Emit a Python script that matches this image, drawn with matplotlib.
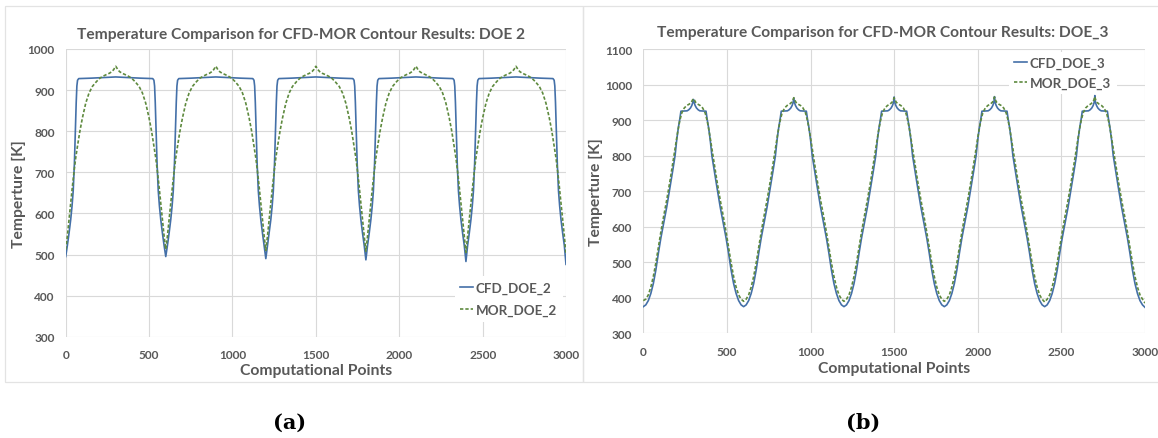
import matplotlib
matplotlib.use("Agg")
import matplotlib.pyplot as plt
from matplotlib.patches import Rectangle

# ---------------------------------------------------------------------------
# Data: temperature [K] along the computational points.
# Each curve repeats every 600 points; a half-cycle profile (distance from a
# trough -> temperature) is given per series, plus the trough and peak value
# of every cycle.
# ---------------------------------------------------------------------------
PERIOD = 600
N_CYCLES = 5

# DOE 2 -- CFD
cfd2_offsets = [0, 10, 20, 30, 38, 45, 52, 58, 63, 67, 71, 78, 150, 250, 300]
cfd2_profile = [None, 522, 552, 585, 618, 655, 720, 800, 870, 910, 924, 928, 929, 931, None]
cfd2_troughs = [495, 495, 490, 487, 483, 476]
cfd2_peaks = [932, 932, 932, 932, 932]

# DOE 2 -- MOR
mor2_offsets = [0, 10, 20, 30, 40, 50, 60, 70, 85, 100, 120, 140, 160, 185,
                205, 225, 245, 262, 277, 288, 295, 300]
mor2_profile = [None, 545, 585, 625, 665, 702, 735, 762, 800, 832, 868, 893,
                909, 921, 929, 934, 938, 941, 945, 950, 955, None]
mor2_troughs = [512, 513, 510, 508, 505, 500]
mor2_peaks = [958, 958, 958, 958, 958]

# DOE 3 -- CFD
cfd3_offsets = [0, 15, 30, 45, 60, 75, 90, 105, 120, 140, 160, 175, 190, 200,
                210, 218, 222, 225, 262, 272, 282, 290, 295, 298, 300]
cfd3_profile = [None, 380, 392, 412, 440, 478, 525, 568, 605, 655, 712, 755,
                800, 845, 880, 902, 915, 925, 926, 929, 934, 941, 948, 956, None]
cfd3_troughs = [375, 375, 375, 375, 375, 373]
cfd3_peaks = [958, 962, 965, 966, 969]

# DOE 3 -- MOR
mor3_offsets = [0, 15, 30, 45, 60, 75, 90, 105, 120, 140, 160, 175, 190, 205,
                218, 230, 245, 260, 275, 287, 295, 300]
mor3_profile = [None, 396, 408, 430, 460, 498, 542, 585, 625, 675, 730, 775,
                820, 865, 898, 920, 934, 941, 945, 950, 957, None]
mor3_troughs = [392, 390, 390, 390, 388, 385]
mor3_peaks = [960, 963, 963, 965, 966]

x_ticks = [0, 500, 1000, 1500, 2000, 2500, 3000]
y_ticks_a = [300, 400, 500, 600, 700, 800, 900, 1000]
y_ticks_b = [300, 400, 500, 600, 700, 800, 900, 1000, 1100]


def build_series(offsets, profile, troughs, peaks):
    """Assemble the full curve: rise from each trough to the peak, then the
    mirrored fall to the next trough."""
    xs, ys = [], []
    for k in range(N_CYCLES):
        start = k * PERIOD
        vals = list(profile)
        vals[0], vals[-1] = troughs[k], peaks[k]
        for d, v in zip(offsets, vals):
            xs.append(start + d)
            ys.append(v)
        vals_fall = list(profile)
        vals_fall[0], vals_fall[-1] = troughs[k + 1], peaks[k]
        for d, v in zip(reversed(offsets[:-1]), reversed(vals_fall[:-1])):
            xs.append(start + PERIOD - d)
            ys.append(v)
    return xs, ys


W, H = 1158, 439
TEXT = "#595959"
GRID = "#d9d9d9"
BLUE = "#4470a8"
GREEN = "#5e8a3e"
FONT = ["Lato", "DejaVu Sans"]

plt.rcParams["font.family"] = FONT

fig = plt.figure(figsize=(W / 100, H / 100), dpi=100)
fig.patch.set_facecolor("white")


def px(x, y):
    return x / W, 1 - y / H


# chart-area borders
for (x0, y0, x1, y1) in [(5, 7, 583, 383), (583, 7, 1170, 383)]:
    fig.add_artist(Rectangle(px(x0, y1), (x1 - x0) / W, (y1 - y0) / H,
                             transform=fig.transFigure, fill=False,
                             edgecolor="#e3e3e3", linewidth=0.9))


def make_axes(rect_px, yticks):
    l, t, r, b = rect_px
    ax = fig.add_axes([l / W, 1 - b / H, (r - l) / W, (b - t) / H])
    ax.set_xlim(0, 3000)
    ax.set_ylim(yticks[0], yticks[-1])
    ax.set_xticks(x_ticks)
    ax.set_yticks(yticks)
    for s in ax.spines.values():
        s.set_visible(False)
    ax.grid(True, color=GRID, linewidth=0.8)
    ax.set_axisbelow(True)
    ax.tick_params(length=0, labelsize=8.6, labelcolor=TEXT)
    ax.tick_params(axis="x", pad=9)
    ax.tick_params(axis="y", pad=8)
    for lab in ax.get_xticklabels() + ax.get_yticklabels():
        lab.set_fontweight("bold")
    return ax


ax1 = make_axes((65.7, 50, 566, 337.7), y_ticks_a)
ax2 = make_axes((643.3, 50, 1145, 334.3), y_ticks_b)

x, y = build_series(cfd2_offsets, cfd2_profile, cfd2_troughs, cfd2_peaks)
ax1.plot(x, y, color=BLUE, linewidth=1.2, label="CFD_DOE_2")
x, y = build_series(mor2_offsets, mor2_profile, mor2_troughs, mor2_peaks)
ax1.plot(x, y, color=GREEN, linewidth=1.2, dashes=(2, 1.2), label="MOR_DOE_2")

x, y = build_series(cfd3_offsets, cfd3_profile, cfd3_troughs, cfd3_peaks)
ax2.plot(x, y, color=BLUE, linewidth=1.2, label="CFD_DOE_3")
x, y = build_series(mor3_offsets, mor3_profile, mor3_troughs, mor3_peaks)
ax2.plot(x, y, color=GREEN, linewidth=1.2, dashes=(2, 1.2), label="MOR_DOE_3")


def legend(ax, anchor_px, spacing):
    leg = ax.legend(loc="center left", bbox_to_anchor=px(*anchor_px),
                    bbox_transform=fig.transFigure, fontsize=9.6,
                    handlelength=1.0, handletextpad=0.2, labelspacing=spacing,
                    borderpad=0.4, frameon=True, fancybox=False)
    leg.get_frame().set_facecolor("white")
    leg.get_frame().set_edgecolor("none")
    leg.get_frame().set_alpha(1)
    for t in leg.get_texts():
        t.set_color(TEXT)
        t.set_fontweight("bold")


legend(ax1, (448, 300), 0.75)
legend(ax2, (1002, 74), 0.55)

# titles, axis labels, captions
kw = dict(color=TEXT, fontweight="bold", ha="center", va="center")
fig.text(*px(301, 35), "Temperature Comparison for CFD-MOR Contour Results: DOE 2",
         fontsize=11.2, **kw)
fig.text(*px(883, 33), "Temperature Comparison for CFD-MOR Contour Results: DOE_3",
         fontsize=11.2, **kw)
fig.text(*px(316, 371), "Computational Points", fontsize=11.3, **kw)
fig.text(*px(894, 369), "Computational Points", fontsize=11.3, **kw)
fig.text(*px(19, 194), "Temperture [K]", fontsize=11.3, rotation=90, **kw)
fig.text(*px(596, 192), "Temperture [K]", fontsize=11.3, rotation=90, **kw)

cap = dict(color="black", fontweight="bold", ha="center", va="center",
           family=["DejaVu Serif"], fontsize=15)
fig.text(*px(290, 423), "(a)", **cap)
fig.text(*px(863, 423), "(b)", **cap)

fig.savefig("out.png", dpi=100, facecolor="white")
